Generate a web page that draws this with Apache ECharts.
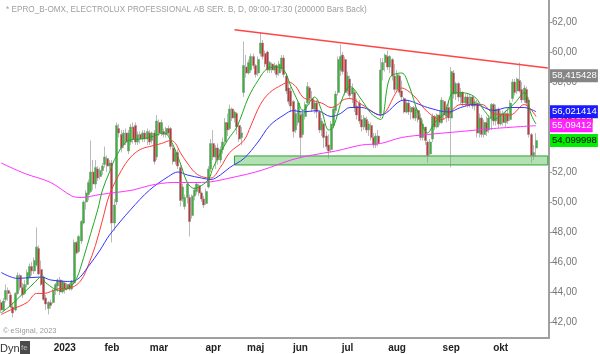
<!DOCTYPE html>
<html>
<head>
<meta charset="utf-8">
<script src="https://cdn.jsdelivr.net/npm/echarts@6/dist/echarts.min.js"></script>
<style>
  html, body { margin: 0; padding: 0; background: #fff; }
  #chart { width: 600px; height: 354px; }
</style>
</head>
<body>
<div id="chart"></div>
<script>
// daily bars, [open, close, low, high]
const ohlc = [
  [43.3,42.8,42.6,43.5],[42.8,43.4,42.7,43.6],[43.5,44.1,43.3,44.5],[44.1,43.9,43.4,44.3],[43.8,43.0,42.9,44.0],
  [43.0,42.6,42.3,43.3],[42.8,43.9,42.7,44.0],[43.9,45.1,43.8,45.3],[45.1,44.3,44.1,45.2],[44.3,43.8,43.6,44.6],
  [43.9,44.5,43.8,44.8],[44.5,45.3,44.3,45.5],[45.0,45.7,44.9,45.9],[45.7,45.4,45.1,46.0],[45.4,46.1,45.2,46.3],
  [45.8,47.0,45.7,48.3],[46.9,45.2,45.1,47.1],[45.5,44.5,44.4,46.1],[45.0,43.5,43.4,45.1],[43.6,43.2,42.8,43.8],
  [42.9,43.3,42.5,43.4],[43.3,43.1,42.9,43.5],[43.3,44.1,43.2,44.2],[44.1,44.5,43.8,44.6],[44.4,44.8,44.0,44.9],
  [44.8,44.0,43.8,45.0],[44.0,44.7,43.9,44.8],[44.6,44.2,43.9,44.7],[44.2,44.5,44.1,44.6],[44.5,44.2,44.1,44.6],
  [44.2,44.7,44.1,44.8],[44.6,47.3,44.5,47.5],[47.3,46.6,46.5,47.4],[46.7,47.7,46.6,47.8],[47.4,48.7,47.2,48.8],
  [48.6,50.0,48.5,50.1],[50.0,50.6,49.5,50.8],[50.5,51.3,50.1,51.5],[50.7,52.0,50.6,54.1],[52.0,51.2,50.8,52.8],
  [51.2,52.3,50.9,52.8],[52.2,51.6,51.4,52.4],[51.7,52.1,51.5,52.3],[52.1,52.4,51.8,52.6],[52.5,53.0,52.3,53.7],
  [52.9,52.4,52.0,53.1],[52.4,52.6,52.1,52.8],[52.6,48.6,47.3,52.8],[48.6,49.8,48.1,50.2],[50.0,55.1,49.8,55.3],
  [54.9,54.6,54.3,55.2],[54.5,53.6,53.3,54.8],[53.8,54.6,53.6,54.8],[54.6,54.0,53.8,54.9],[53.4,54.6,53.2,54.8],
  [54.0,55.0,53.8,55.2],[55.0,54.2,53.9,55.3],[55.1,54.0,53.8,55.3],[54.0,54.5,53.8,54.7],[54.5,54.2,53.9,54.7],
  [54.2,54.6,54.0,54.8],[54.6,54.2,54.0,54.8],[54.2,54.7,53.8,54.9],[54.6,54.0,53.8,54.8],[54.1,54.6,53.9,54.7],
  [54.6,52.7,52.5,54.8],[53.0,55.4,52.8,55.8],[55.3,54.6,54.4,55.5],[54.6,55.3,54.4,55.5],[54.7,54.5,54.3,54.9],
  [54.5,54.9,54.3,55.0],[54.9,54.6,54.4,55.1],[54.9,53.7,53.5,55.0],[53.6,52.7,52.5,53.8],[52.7,53.3,52.5,53.5],
  [53.3,52.4,52.2,53.5],[52.3,50.1,49.7,52.5],[50.2,51.0,50.0,51.2],[49.7,50.3,49.5,50.5],[50.3,51.2,49.9,51.3],
  [50.3,48.7,47.7,50.5],[49.1,50.4,48.9,50.5],[50.4,50.8,50.1,51.0],[50.7,51.2,50.5,51.3],[51.1,50.6,50.4,51.2],
  [50.6,50.2,50.0,50.7],[50.2,49.8,49.6,50.4],[49.9,50.7,49.8,50.9],[51.0,52.2,50.9,52.4],[52.2,53.9,52.0,54.2],
  [53.9,53.0,52.8,54.8],[53.0,53.6,52.2,53.8],[53.6,52.8,52.5,53.9],[52.8,53.5,52.6,53.7],[53.5,54.0,53.2,54.3],
  [54.0,55.3,53.8,55.6],[55.3,54.8,54.4,55.9],[54.9,56.2,54.8,56.5],[56.2,55.6,55.4,56.3],[55.6,56.0,55.3,56.1],
  [55.9,55.0,54.5,56.0],[55.1,54.2,54.0,55.3],[54.3,54.6,53.8,55.0],[57.3,59.1,57.0,60.7],[59.0,58.6,58.3,59.8],
  [58.6,59.3,58.5,59.5],[58.8,59.7,58.6,59.9],[59.7,59.1,58.9,59.9],[59.1,58.5,58.3,59.2],[58.6,59.5,58.4,59.7],
  [59.9,60.6,59.7,61.3],[60.6,59.7,59.5,60.8],[59.9,59.2,59.0,60.1],[60.0,58.8,58.6,60.1],[58.8,59.3,58.6,59.4],
  [59.2,58.8,58.6,59.3],[58.8,59.1,58.6,59.3],[59.1,58.5,58.3,59.2],[58.6,59.2,58.4,59.4],[58.9,59.6,58.7,59.8],
  [59.6,58.5,58.3,59.8],[58.4,57.4,57.2,58.6],[57.6,56.7,56.5,58.0],[57.4,56.4,56.0,57.7],[56.7,54.7,54.3,56.8],
  [54.8,55.9,54.6,56.2],[55.3,56.6,55.1,56.8],[55.8,54.3,52.9,56.0],[54.5,55.9,54.3,56.2],[55.7,56.5,55.5,56.7],
  [56.6,57.7,56.5,58.0],[57.6,56.9,56.5,57.7],[56.9,56.2,56.0,57.4],[56.2,56.6,55.9,56.8],[56.6,56.0,55.6,56.8],
  [56.0,54.8,54.6,56.1],[54.8,55.4,54.4,55.6],[55.2,54.3,53.6,55.3],[54.4,53.7,53.5,54.7],[53.8,53.4,52.9,54.5],
  [53.5,55.2,53.3,55.4],[55.1,56.2,54.9,56.4],[56.1,57.2,55.9,57.4],[57.3,59.5,57.1,59.7],[58.8,59.7,58.4,60.5],
  [59.8,58.7,58.5,60.0],[59.5,57.3,57.1,59.7],[57.4,58.4,57.2,58.7],[58.2,57.1,56.9,58.4],[57.2,57.6,56.6,57.9],
  [57.3,56.3,56.0,57.5],[56.4,55.8,55.5,56.9],[56.6,55.4,55.2,56.8],[55.5,55.0,54.7,55.8],[55.0,55.6,54.8,55.8],
  [55.5,54.8,54.6,55.7],[54.8,55.2,54.4,55.4],[55.1,54.3,54.1,55.3],[54.3,53.8,53.6,54.6],[53.8,54.4,53.6,54.6],
  [54.4,53.9,53.7,54.8],[55.9,58.8,55.6,59.6],[58.8,59.3,58.1,59.6],[59.3,59.8,58.7,59.9],[59.7,59.0,58.8,60.1],
  [59.0,59.7,58.6,59.8],[59.5,58.4,58.1,59.6],[58.4,57.5,57.3,59.2],[57.5,58.5,57.3,58.8],[58.4,57.3,57.1,58.5],
  [57.4,57.0,56.8,58.1],[56.9,56.0,55.9,57.0],[56.0,56.6,55.9,56.8],[56.6,56.0,55.8,56.8],[56.0,56.3,55.5,56.4],
  [56.3,55.6,55.5,56.4],[55.6,56.2,55.4,56.4],[56.1,55.5,55.3,56.2],[55.6,54.3,54.1,55.9],[54.3,55.2,54.1,55.5],
  [55.0,54.1,53.8,55.0],[54.0,53.1,52.6,54.1],[53.2,54.0,53.1,54.2],[54.2,55.7,54.0,55.9],[55.7,55.0,54.8,55.8],
  [55.0,55.8,54.9,55.9],[55.8,55.3,55.1,56.1],[55.3,56.8,55.2,57.0],[56.7,55.8,55.5,56.8],[55.7,56.3,55.3,56.5],
  [56.3,55.6,55.4,56.8],[55.6,58.7,52.3,59.0],[58.6,57.2,56.9,58.8],[57.2,57.9,56.8,58.0],[57.9,57.0,56.7,58.0],
  [57.0,57.3,56.5,57.6],[57.3,56.6,56.4,57.4],[56.6,57.0,56.4,57.2],[57.0,56.5,56.3,57.2],[56.5,57.0,56.3,57.2],
  [57.0,56.4,56.2,57.1],[56.4,56.7,56.1,56.9],[56.6,54.6,54.3,56.8],[54.6,55.6,54.3,55.9],[55.6,54.5,54.3,55.8],
  [54.5,55.3,54.3,55.5],[55.3,54.7,54.4,55.7],[54.8,55.6,54.6,55.8],[55.6,56.5,54.8,56.6],[56.5,55.4,55.1,56.6],
  [55.4,56.2,55.1,56.5],[56.2,55.2,54.9,56.3],[55.2,55.9,55.1,56.1],[55.9,55.3,55.1,56.1],[55.3,55.9,55.0,56.1],
  [55.9,55.4,55.2,56.3],[55.5,56.6,55.4,56.8],[56.9,58.0,56.7,58.2],[58.0,57.3,57.1,58.2],[57.4,58.2,57.2,58.3],
  [58.1,57.4,57.3,59.3],[57.5,56.8,56.6,58.0],[56.8,57.6,56.6,57.8],[57.5,56.6,56.4,57.7],[56.8,54.5,54.3,57.0],
  [54.5,53.1,52.6,54.6],[53.1,53.3,52.8,53.8],[53.6,54.1,53.0,54.6]
];

// moving averages: [bar index, value]
const maGreen = [[0,42.6],[4,43.1],[8,43.7],[14,44.6],[17,45.0],[19,44.6],[25,44.1],[29,44.3],[32,44.9],[35,46.3],[38,47.9],[41,49.5],[43,50.8],[46,52.0],[49,53.1],[54,54.1],[59,54.2],[63,54.3],[69,54.6],[72,54.1],[76,52.6],[79,51.3],[82,50.9],[85,51.1],[88,51.5],[90,52.3],[96,54.1],[100,55.0],[105,57.0],[109,58.1],[113,58.9],[117,59.0],[120,58.8],[123,57.7],[126,56.7],[128,56.1],[133,57.0],[136,56.1],[139,54.8],[141,55.0],[145,57.0],[148,57.7],[153,56.8],[157,55.9],[161,55.5],[165,58.3],[170,58.6],[173,57.8],[177,55.9],[181,54.6],[184,55.3],[188,55.9],[192,57.3],[195,57.3],[201,57.0],[205,56.1],[209,55.5],[213,55.9],[218,56.6],[222,57.3],[225,55.8],[227,55.2]];
const maRed = [[0,42.5],[4,42.8],[11,43.3],[15,43.9],[18,43.9],[24,44.2],[30,44.3],[34,44.8],[37,45.8],[40,47.1],[43,48.8],[46,50.5],[51,52.1],[55,53.0],[59,53.5],[63,53.7],[68,53.9],[72,54.1],[74,53.9],[76,53.3],[79,52.6],[82,52.0],[85,51.7],[89,51.6],[93,52.3],[97,53.3],[103,54.1],[106,55.1],[110,56.5],[114,57.3],[119,57.8],[122,58.0],[125,57.7],[128,57.0],[131,56.8],[136,56.6],[140,56.3],[143,56.5],[145,56.8],[148,56.9],[153,56.5],[161,55.8],[170,57.6],[175,57.1],[181,56.0],[187,55.5],[195,56.5],[204,56.5],[209,55.9],[216,55.8],[222,56.5],[227,55.7]];
const maBlue = [[0,45.3],[7,44.9],[17,45.0],[21,44.8],[28,44.7],[32,44.8],[37,45.7],[42,46.8],[46,47.8],[55,49.5],[63,50.8],[71,51.7],[75,52.0],[79,51.8],[85,51.6],[89,51.5],[93,51.8],[97,52.3],[103,52.9],[109,54.0],[114,55.1],[120,55.8],[124,56.1],[128,56.0],[134,56.1],[140,55.7],[144,55.9],[148,56.3],[153,56.3],[161,55.8],[171,56.8],[181,56.3],[190,56.0],[195,56.3],[201,56.5],[209,56.1],[215,56.3],[222,56.3],[227,56.02]];
const maMagenta = [[0,52.6],[10,51.9],[21,51.3],[30,50.4],[34,50.3],[42,50.5],[56,50.8],[63,51.1],[73,51.3],[85,51.3],[100,51.7],[108,52.0],[114,52.3],[123,52.8],[131,53.1],[142,53.4],[153,53.8],[161,53.9],[170,54.3],[181,54.5],[195,54.7],[209,54.9],[227,55.09]];

// last values shown in the boxes on the price axis
const lastGreen = 54.099998, lastBlue = 56.021414, lastRed = 55.70152, lastMagenta = 55.09412, trendValue = 58.415428;

// resistance line and support zone
const trendStart = [99, 61.48], trendEnd = [232, 58.93];
const zoneFrom = 99, zoneTo = 232, zoneTop = 53.07, zoneBottom = 52.47;

const barCount = 233;
const categories = Array.from({ length: barCount }, (_, i) => String(i));
const monthTicks = [27, 47, 67, 90, 108, 127, 147, 168, 191, 212];
const monthLabels = ['2023', 'feb', 'mar', 'apr', 'maj', 'jun', 'jul', 'aug', 'sep', 'okt'];
const priceTicks = [42, 44, 46, 48, 50, 52, 54, 56, 58, 60, 62];

const font = 'Liberation Sans, Arial, sans-serif';
const chart = echarts.init(document.getElementById('chart'), null, { renderer: 'canvas' });

// price box on the right axis (markLine that is invisible, only its end label shows)
function axisBox(value, bg, fg) {
  return {
    yAxis: value,
    lineStyle: { color: 'rgba(0,0,0,0)', width: 0 },
    label: {
      show: true, position: 'end', distance: 1,
      formatter: String(value).replace('.', ','),
      backgroundColor: bg, color: fg, fontSize: 9.5, fontFamily: font,
      padding: [2, 1, 1, 2], lineHeight: 10
    }
  };
}

function maSeries(name, data, color, box, boxZ) {
  const s = {
    name, type: 'line', data, smooth: 0.35, showSymbol: false, silent: true, clip: false,
    lineStyle: { color, width: 1 }, z: 3
  };
  if (box) {
    s.markLine = { silent: true, z: boxZ, symbol: ['none', 'none'], animation: false, data: [box] };
  }
  return s;
}

const tickSet = new Set(monthTicks);

chart.setOption({
  animation: false,
  backgroundColor: '#fff',
  textStyle: { fontFamily: font },
  title: {
    text: '* EPRO_B-OMX, ELECTROLUX PROFESSIONAL AB SER. B, D, 09:00-17:30 (200000 Bars Back)',
    left: 1, top: 1,
    textStyle: { fontSize: 8.2, fontWeight: 'normal', color: '#a0a0a0', fontFamily: font }
  },
  grid: { left: 0, right: 51, top: 0, bottom: 16 },
  xAxis: {
    type: 'category', data: categories, boundaryGap: true,
    axisLine: { lineStyle: { color: '#a0a0a0', width: 2 } },
    axisTick: { interval: (i) => tickSet.has(i), alignWithLabel: true, length: 3, lineStyle: { color: '#999' } },
    axisLabel: {
      interval: (i) => tickSet.has(i),
      formatter: (v, i) => monthLabels[monthTicks.indexOf(i)] || '',
      color: '#222', fontWeight: 'bold', fontSize: 10, margin: 5, fontFamily: font
    },
    splitLine: { show: false }
  },
  yAxis: {
    type: 'value', position: 'right', min: 40.93, max: 63.47, scale: true,
    axisLine: { show: true, lineStyle: { color: '#a0a0a0', width: 2 } },
    axisTick: { show: true, customValues: priceTicks, length: 3, lineStyle: { color: '#999' } },
    axisLabel: {
      customValues: priceTicks,
      formatter: (v) => v.toFixed(2).replace('.', ','),
      color: '#777', fontSize: 10, margin: 3, fontFamily: font
    },
    splitLine: { show: false }
  },
  series: [
    {
      name: 'EPRO_B', type: 'candlestick', data: ohlc, barWidth: 2.5, z: 2, clip: false,
      itemStyle: {
        color: '#28c028', color0: '#cc3030',
        borderColor: '#8d8d8d', borderColor0: '#8d8d8d', borderWidth: 0.6
      },
      markArea: {
        silent: true,
        itemStyle: { color: 'rgba(130,205,130,0.6)', borderColor: '#2f9f2f', borderWidth: 1 },
        data: [[{ coord: [zoneFrom, zoneTop] }, { coord: [zoneTo, zoneBottom] }]]
      },
      markLine: {
        silent: true, z: 9, symbol: ['none', 'none'], animation: false,
        data: [
          [{ coord: trendStart, lineStyle: { color: '#ff4646', width: 1.5, type: 'solid' }, label: { show: false } },
           { coord: trendEnd }],
          axisBox(trendValue, '#858585', '#fff'),
          axisBox(lastGreen, '#00ee00', '#000')
        ]
      }
    },
    maSeries('MA red', maRed, '#ff3a3a', axisBox(lastRed, '#ff2020', '#fff'), 6),
    maSeries('MA blue', maBlue, '#3535ff', axisBox(lastBlue, '#1a1aff', '#fff'), 7),
    maSeries('MA magenta', maMagenta, '#ff33ff', axisBox(lastMagenta, '#ff22ff', '#fff'), 8),
    maSeries('MA green', maGreen, '#1faa1f', null, 0)
  ],
  graphic: [
    { type: 'text', left: 3, top: 327, style: { text: '© eSignal, 2023', fill: '#9a9a9a', fontSize: 7.5, fontFamily: font } },
    { type: 'text', left: 0, top: 343, style: { text: 'Dyn', fill: '#333', fontSize: 11, fontFamily: font } },
    { type: 'rect', left: 20, top: 341, shape: { width: 10, height: 13 }, style: { fill: '#4a4a4a' } },
    { type: 'text', left: 21, top: 344, style: { text: 'fe', fill: '#bbb', fontSize: 8, fontFamily: font } }
  ]
});
</script>
</body>
</html>
